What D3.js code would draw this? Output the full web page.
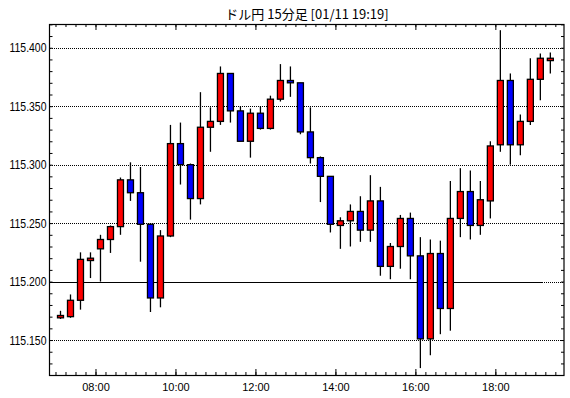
<!DOCTYPE html>
<html><head><meta charset="utf-8">
<script src="https://cdn.jsdelivr.net/npm/d3@7"></script>
<style>html,body{margin:0;padding:0;background:#fff;}svg{display:block;}</style>
</head><body>
<script>
const titleText = "ドル円 15分足 [01/11 19:19]";
const times = ["07:00","07:15","07:30","07:45","08:00","08:15","08:30","08:45","09:00","09:15","09:30","09:45","10:00","10:15","10:30","10:45","11:00","11:15","11:30","11:45","12:00","12:15","12:30","12:45","13:00","13:15","13:30","13:45","14:00","14:15","14:30","14:45","15:00","15:15","15:30","15:45","16:00","16:15","16:30","16:45","17:00","17:15","17:30","17:45","18:00","18:15","18:30","18:45","19:00","19:15"];
const open  = [115.169,115.170,115.184,115.218,115.228,115.236,115.247,115.287,115.276,115.249,115.186,115.239,115.318,115.300,115.271,115.332,115.337,115.378,115.346,115.320,115.344,115.331,115.356,115.372,115.370,115.328,115.306,115.290,115.248,115.252,115.260,115.244,115.269,115.213,115.230,115.254,115.222,115.151,115.224,115.177,115.254,115.277,115.248,115.269,115.317,115.372,115.317,115.337,115.373,115.389];
const high  = [115.175,115.189,115.225,115.225,115.240,115.248,115.289,115.302,115.298,115.250,115.244,115.334,115.336,115.301,115.362,115.349,115.384,115.378,115.350,115.348,115.350,115.359,115.386,115.384,115.370,115.349,115.307,115.290,115.255,115.266,115.273,115.291,115.281,115.233,115.257,115.259,115.238,115.236,115.235,115.286,115.297,115.295,115.286,115.320,115.415,115.378,115.343,115.391,115.395,115.396];
const low   = [115.168,115.169,115.176,115.203,115.200,115.2245,115.240,115.269,115.217,115.174,115.178,115.238,115.283,115.253,115.266,115.311,115.334,115.336,115.320,115.306,115.330,115.330,115.354,115.358,115.326,115.301,115.268,115.242,115.228,115.230,115.234,115.234,115.205,115.202,115.211,115.202,115.126,115.137,115.155,115.158,115.238,115.236,115.240,115.254,115.311,115.300,115.308,115.334,115.355,115.378];
const close = [115.171,115.184,115.219,115.220,115.236,115.247,115.287,115.276,115.249,115.186,115.239,115.318,115.300,115.271,115.332,115.337,115.378,115.346,115.320,115.344,115.331,115.356,115.372,115.370,115.328,115.306,115.290,115.249,115.252,115.260,115.244,115.269,115.213,115.230,115.254,115.222,115.151,115.224,115.177,115.254,115.277,115.248,115.270,115.316,115.372,115.317,115.337,115.373,115.391,115.391];
const yTickLabels = ["115.150","115.200","115.250","115.300","115.350","115.400"];
const xTickLabels = ["08:00","10:00","12:00","14:00","16:00","18:00"];
const refLine = 115.200;

const W = 570, H = 398;
const L = 49.5, R = 564, T = 24, B = 375;
const toMin = s => { const [h, m] = s.split(":").map(Number); return h * 60 + m; };

const svg = d3.select("body").append("svg").attr("width", W).attr("height", H);
svg.append("rect").attr("width", W).attr("height", H).attr("fill", "#fff");

const x = d3.scaleLinear().domain([toMin("06:51"), toMin("19:43")]).range([L, R]);
const y = d3.scaleLinear().domain([115.1201, 115.4203]).range([B, T]);
const py = v => Math.round(y(v)) + 0.5;

// title
svg.append("text").attr("x", 307).attr("y", 19).attr("text-anchor", "middle")
  .attr("font-family", "'Noto Sans CJK JP', sans-serif").attr("font-size", 13).attr("fill", "#000")
  .text(titleText);

// grid (dotted, pixel aligned)
const yMajor = yTickLabels.map(Number);
svg.append("g").selectAll("line").data(yMajor.filter(v => v !== refLine)).join("line")
  .attr("x1", 50).attr("x2", R).attr("y1", d => py(d)).attr("y2", d => py(d))
  .attr("stroke", "#000").attr("stroke-width", 1).attr("stroke-dasharray", "1,1")
  .attr("shape-rendering", "crispEdges");
svg.append("line").attr("x1", 544).attr("x2", R).attr("y1", py(refLine)).attr("y2", py(refLine))
  .attr("stroke", "#000").attr("stroke-width", 1).attr("stroke-dasharray", "1,1")
  .attr("shape-rendering", "crispEdges");
svg.append("line").attr("x1", L).attr("x2", 543).attr("y1", py(refLine)).attr("y2", py(refLine))
  .attr("stroke", "#000").attr("stroke-width", 1.2);

// ticks
const minorX = d3.range(toMin("07:00"), toMin("19:45"), 15);
const majorX = xTickLabels.map(toMin);
const minorY = d3.range(115130, 115421, 10).map(v => v / 1000);

function axisStyle(g) {
  g.select(".domain").remove();
  g.selectAll("line").attr("stroke", "#000");
}
svg.append("g").attr("transform", `translate(0,${B})`)
  .call(d3.axisBottom(x).tickValues(minorX).tickSize(-3).tickFormat("")).call(axisStyle);
svg.append("g").attr("transform", `translate(0,${T})`)
  .call(d3.axisTop(x).tickValues(minorX).tickSize(-3).tickFormat("")).call(axisStyle);
svg.append("g").attr("transform", `translate(0,${B})`)
  .call(d3.axisBottom(x).tickValues(majorX).tickSize(-6).tickPadding(8)
    .tickFormat((d, i) => xTickLabels[i])).call(axisStyle)
  .selectAll("text").attr("font-family", "'Liberation Sans', Arial, sans-serif").attr("font-size", 11).attr("fill", "#000");
svg.append("g").attr("transform", `translate(0,${T})`)
  .call(d3.axisTop(x).tickValues(majorX).tickSize(-6).tickFormat("")).call(axisStyle);
svg.append("g").attr("transform", `translate(${L},0)`)
  .call(d3.axisLeft(y).tickValues(minorY).tickSize(-3).tickFormat("")).call(axisStyle);
svg.append("g").attr("transform", `translate(${R},0)`)
  .call(d3.axisRight(y).tickValues(minorY).tickSize(-3).tickFormat("")).call(axisStyle);
svg.append("g").attr("transform", `translate(${L},0)`)
  .call(d3.axisLeft(y).tickValues(yMajor).tickSize(0).tickPadding(3)
    .tickFormat((d, i) => yTickLabels[i])).call(axisStyle)
  .selectAll("text").attr("font-family", "'Liberation Sans', Arial, sans-serif").attr("font-size", 13)
  .attr("fill", "#000").attr("textLength", 37).attr("lengthAdjust", "spacingAndGlyphs");

// frame
svg.append("rect").attr("x", L).attr("y", T + 0.5).attr("width", R - L).attr("height", B - T)
  .attr("fill", "none").attr("stroke", "#000").attr("stroke-width", 1.2);

// candles
const data = times.map((t, i) => ({ t: toMin(t), o: open[i], h: high[i], l: low[i], c: close[i] }));
const cx = d => x(d.t + 7.5);
const g = svg.append("g");
g.selectAll("line.wick").data(data).join("line").attr("class", "wick")
  .attr("x1", cx).attr("x2", cx).attr("y1", d => y(d.h)).attr("y2", d => y(d.l))
  .attr("stroke", "#000").attr("stroke-width", 1.3);
g.selectAll("rect.body").data(data).join("rect").attr("class", "body")
  .attr("x", d => cx(d) - 3).attr("width", 6)
  .attr("y", d => y(Math.max(d.o, d.c)))
  .attr("height", d => Math.max(Math.abs(y(d.o) - y(d.c)), 1.5))
  .attr("fill", d => d.c >= d.o ? "#ff0000" : "#0000ff")
  .attr("stroke", "#000").attr("stroke-width", 1.3);
</script>
</body></html>
